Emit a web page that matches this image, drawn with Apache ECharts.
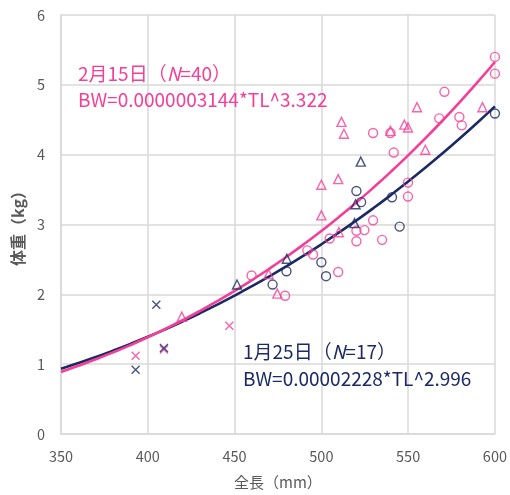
<!DOCTYPE html>
<html>
<head>
<meta charset="utf-8">
<script src="https://cdn.jsdelivr.net/npm/echarts@6/dist/echarts.min.js"></script>
<style>html,body{margin:0;padding:0;background:#fff}#c{width:510px;height:495px}</style>
</head>
<body>
<div id="c"></div>
<script>
// ---- Data ----
const xTicks = [350, 400, 450, 500, 550, 600];
const yTicks = [0, 1, 2, 3, 4, 5, 6];

// 1月25日 (N=17) – navy
const jan_circle_TL = [471.9, 479.9, 500.0, 502.7, 520.2, 522.9, 540.7, 545.1, 600.0];
const jan_circle_BW = [2.14, 2.33, 2.46, 2.26, 3.48, 3.32, 3.39, 2.97, 4.59];
const jan_tri_TL = [451.4, 480.1, 522.7, 519.7, 519.1];
const jan_tri_BW = [2.14, 2.51, 3.90, 3.29, 3.02];
const jan_cross_TL = [393.0, 404.9, 409.3];
const jan_cross_BW = [0.92, 1.85, 1.23];

// 2月15日 (N=40) – pink
const feb_circle_TL = [459.8, 479.1, 491.9, 495.2, 504.8, 509.7, 520.2, 520.2, 524.8, 529.8, 529.8, 535.0, 539.8, 541.7, 549.9, 549.9, 567.9, 570.9, 579.5, 580.9, 600.0, 600.0];
const feb_circle_BW = [2.27, 1.98, 2.63, 2.57, 2.80, 2.32, 2.91, 2.76, 2.92, 4.31, 3.06, 2.78, 4.31, 4.03, 3.60, 3.40, 4.52, 4.90, 4.54, 4.42, 5.40, 5.16];
const feb_tri_TL = [419.6, 469.6, 474.6, 500.0, 500.0, 509.7, 510.1, 511.6, 513.0, 539.8, 547.8, 549.9, 555.1, 559.9, 592.8];
const feb_tri_BW = [1.68, 2.29, 2.01, 3.57, 3.13, 3.65, 2.89, 4.47, 4.30, 4.34, 4.43, 4.39, 4.68, 4.07, 4.68];
const feb_cross_TL = [393.0, 409.3, 447.0];
const feb_cross_BW = [1.12, 1.21, 1.55];

// Regression curves drawn on the chart: BW(g) = a * TL^b
// (the drawn pink curve corresponds to a = 3.144e-6; the printed label shows one extra zero)
const jan_fit = [0.00002228, 2.996];
const feb_fit = [0.000003144, 3.322];
const fitTL = [350, 360, 370, 380, 390, 400, 410, 420, 430, 440, 450, 460, 470, 480, 490, 500, 510, 520, 530, 540, 550, 560, 570, 580, 590, 600];

// Annotation texts as printed
const febTitle = ['2月15日（', 'N', '=40）'];
const febEq = 'BW=0.0000003144*TL^3.322';
const janTitle = ['1月25日（', 'N', '=17）'];
const janEq = 'BW=0.00002228*TL^2.996';

// ---- Build chart ----
const NAVY = '#1b2a63';
const PINK = '#f43f98';
const FONT = '"Noto Sans CJK JP", "Noto Sans", sans-serif';
const zip = (a, b) => a.map((v, i) => [v, b[i]]);
const curve = (f) => fitTL.map(t => [t, f[0] * Math.pow(t, f[1]) / 1000]);
const CROSS = 'path://M0,0L10,10M10,0L0,10';
const FS = 19;

function sc(data, symbol, color, size) {
  return {
    type: 'scatter', data: data, symbol: symbol, symbolSize: size,
    itemStyle: { color: 'rgba(0,0,0,0)', borderColor: color, borderWidth: 1.4 },
    z: 3
  };
}
function title(parts, color) {
  return {
    text: '{a|' + parts[0] + '}{i|' + parts[1] + '}{a|' + parts[2] + '}',
    rich: {
      a: { fill: color, fontSize: FS, fontFamily: FONT },
      i: { fill: color, fontSize: FS, fontStyle: 'italic', fontFamily: FONT }
    }
  };
}

const chart = echarts.init(document.getElementById('c'), null, { renderer: 'canvas' });
chart.setOption({
  animation: false,
  backgroundColor: '#fff',
  textStyle: { fontFamily: FONT },
  grid: { left: 61, right: 13, top: 15, bottom: 59 },
  xAxis: {
    type: 'value', min: xTicks[0], max: xTicks[xTicks.length - 1], interval: 50,
    name: '全長（mm）', nameLocation: 'middle', nameGap: 41,
    nameTextStyle: { color: '#595959', fontSize: 15, fontFamily: FONT },
    axisLine: { show: true, lineStyle: { color: '#d9d9d9', width: 1.5 } },
    axisTick: { show: false },
    axisLabel: { color: '#595959', fontSize: 14.5, margin: 15, fontFamily: FONT },
    splitLine: { show: true, lineStyle: { color: '#d9d9d9', width: 1.5 } }
  },
  yAxis: {
    type: 'value', min: yTicks[0], max: yTicks[yTicks.length - 1], interval: 1,
    name: '体重（kg）', nameLocation: 'middle', nameGap: 26,
    nameTextStyle: { color: '#595959', fontSize: 16, fontWeight: 'bold', fontFamily: FONT },
    axisLine: { show: true, lineStyle: { color: '#d9d9d9', width: 1.5 } },
    axisTick: { show: false },
    axisLabel: { color: '#595959', fontSize: 14.5, margin: 16, fontFamily: FONT },
    splitLine: { show: true, lineStyle: { color: '#d9d9d9', width: 1.5 } }
  },
  series: [
    { type: 'line', data: curve(jan_fit), smooth: true, showSymbol: false, lineStyle: { color: NAVY, width: 2.6 }, z: 2 },
    { type: 'line', data: curve(feb_fit), smooth: true, showSymbol: false, lineStyle: { color: PINK, width: 2.6 }, z: 2 },
    sc(zip(feb_circle_TL, feb_circle_BW), 'circle', PINK, 9),
    sc(zip(feb_tri_TL, feb_tri_BW), 'triangle', PINK, 9),
    sc(zip(feb_cross_TL, feb_cross_BW), CROSS, PINK, 8),
    sc(zip(jan_circle_TL, jan_circle_BW), 'circle', NAVY, 9),
    sc(zip(jan_tri_TL, jan_tri_BW), 'triangle', NAVY, 9),
    sc(zip(jan_cross_TL, jan_cross_BW), CROSS, NAVY, 8)
  ],
  graphic: [
    { type: 'text', left: 78, top: 64, z: 10, style: title(febTitle, PINK) },
    { type: 'text', left: 78, top: 90, z: 10, style: { text: febEq, fill: PINK, fontSize: FS, fontFamily: FONT } },
    { type: 'text', left: 243, top: 342, z: 10, style: title(janTitle, NAVY) },
    { type: 'text', left: 243, top: 369, z: 10, style: { text: janEq, fill: NAVY, fontSize: FS, fontFamily: FONT } }
  ]
});
</script>
</body>
</html>
